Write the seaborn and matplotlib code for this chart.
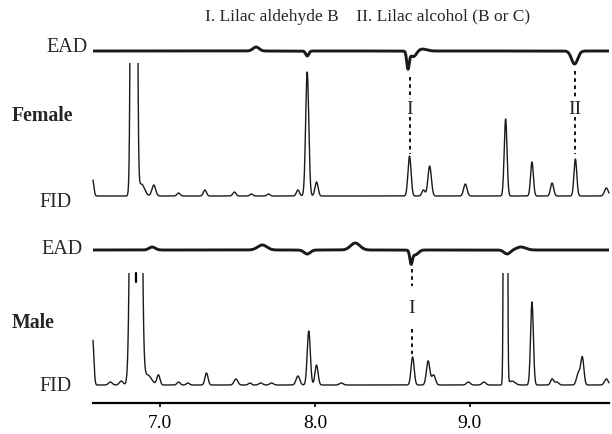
import numpy as np
import pandas as pd
import matplotlib
matplotlib.use("Agg")
import matplotlib.pyplot as plt
from matplotlib.patches import Rectangle
import seaborn as sns

# retention time window (min)
t_start, t_end = 6.568, 9.897

# FID peaks: retention time, height, width
female_fid_rt = [6.565, 6.832, 6.88, 6.96, 7.12, 7.29, 7.48, 7.59, 7.70, 7.89, 7.95, 8.01,
                 8.61, 8.70, 8.74, 8.97, 9.23, 9.40, 9.53, 9.68, 9.88]
female_fid_h = [17, 3000, 12, 11, 3, 6, 4, 2, 2, 6, 124, 14,
                40, 6, 30, 12, 77, 34, 13, 37, 8]
female_fid_w = [0.008, 0.0105, 0.02, 0.012, 0.01, 0.01, 0.01, 0.01, 0.01, 0.01, 0.010, 0.01,
                0.010, 0.01, 0.011, 0.011, 0.009, 0.009, 0.01, 0.009, 0.012]

male_fid_rt = [6.565, 6.68, 6.75, 6.845, 6.92, 6.99, 7.12, 7.18, 7.30, 7.49, 7.58, 7.65, 7.72,
               7.89, 7.96, 8.01, 8.17, 8.63, 8.73, 8.765, 8.99, 9.09, 9.229, 9.27, 9.40,
               9.53, 9.56, 9.70, 9.725, 9.88]
male_fid_h = [48, 3, 4, 3000, 10, 10, 3, 2, 12, 6, 2, 2, 2,
              9, 54, 20, 2, 28, 24, 10, 3, 3, 3000, 4, 83,
              6, 3, 12, 27, 6]
male_fid_w = [0.008, 0.012, 0.012, 0.0175, 0.025, 0.01, 0.01, 0.01, 0.01, 0.012, 0.01, 0.012, 0.012,
              0.012, 0.010, 0.01, 0.012, 0.010, 0.011, 0.012, 0.012, 0.012, 0.0062, 0.02, 0.009,
              0.01, 0.012, 0.012, 0.010, 0.012]

# EAD deflections (negative = depolarisation)
female_ead_rt = [7.62, 7.95, 8.60, 8.635, 8.69, 9.675]
female_ead_h = [4, -5, -17, -6, 2, -13]
female_ead_w = [0.02, 0.01, 0.008, 0.02, 0.03, 0.02]

male_ead_rt = [6.95, 7.66, 7.95, 8.26, 8.62, 8.645, 9.24, 9.33]
male_ead_h = [3, 5, -4, 7, -12, -5, -4, 3]
male_ead_w = [0.02, 0.03, 0.02, 0.03, 0.008, 0.02, 0.02, 0.03]

ticks = [7.0, 8.0, 9.0]
tick_labels = ["7.0", "8.0", "9.0"]

# vertical placement of the four traces (pixels above the time axis)
female_ead_base, female_fid_base = 352, 207
male_ead_base, male_fid_base = 153, 18
female_clip, male_clip = 133, 112

t = np.linspace(t_start, t_end, 8000)


def trace(rts, hs, ws, base):
    y = np.full_like(t, float(base))
    for rt, h, w in zip(rts, hs, ws):
        y += h * np.exp(-0.5 * ((t - rt) / w) ** 2)
    return pd.DataFrame({"t": t, "y": y})


sns.set_theme(style="white")
plt.rcParams["font.family"] = ["Liberation Serif", "DejaVu Serif"]

fig = plt.figure(figsize=(6.12, 4.35), dpi=100)
ax = fig.add_axes([93 / 612, 31 / 435, 516 / 612, 404 / 435])

traces = [
    (trace(female_fid_rt, female_fid_h, female_fid_w, female_fid_base), 1.0, female_fid_base + female_clip),
    (trace(male_fid_rt, male_fid_h, male_fid_w, male_fid_base), 1.0, male_fid_base + male_clip),
    (trace(female_ead_rt, female_ead_h, female_ead_w, female_ead_base), 2.1, None),
    (trace(male_ead_rt, male_ead_h, male_ead_w, male_ead_base), 2.1, None),
]
for df, lw, top in traces:
    n_before = len(ax.lines)
    sns.lineplot(data=df, x="t", y="y", color="#1a1a1a", lw=lw, ax=ax, legend=False)
    if top is not None:
        # off-scale peaks are cut at the top of their panel
        box = Rectangle((t_start - 1, -50), t_end - t_start + 2, top + 50,
                        transform=ax.transData, visible=False)
        ax.add_patch(box)
        for ln in ax.lines[n_before:]:
            ln.set_clip_path(box)

# dashed markers linking EAD responses to FID peaks
dash = dict(color="black", lw=1.3, ls=(0, (2, 2)))
ax.plot([8.61, 8.61], [326, 304], **dash)
ax.plot([8.61, 8.61], [286, 249], **dash)
ax.plot([9.68, 9.68], [332, 304], **dash)
ax.plot([9.68, 9.68], [286, 249], **dash)
ax.plot([8.625, 8.625], [134, 117], **dash)
ax.plot([8.625, 8.625], [74, 49], **dash)
ax.text(8.61, 295, "I", ha="center", va="center", fontsize=14)
ax.text(9.68, 295, "II", ha="center", va="center", fontsize=14)
ax.text(8.625, 95, "I", ha="center", va="center", fontsize=14)
# break marker on the off-scale male peak
ax.plot([6.843, 6.843], [130, 121], color="black", lw=1.6)

ax.set_xlim(t_start, t_end)
ax.set_ylim(0, 404)
for side in ["left", "right", "top"]:
    ax.spines[side].set_visible(False)
ax.spines["bottom"].set_linewidth(1.6)
ax.spines["bottom"].set_color("black")
ax.set_yticks([])
ax.set_xticks(ticks)
ax.set_xticklabels(tick_labels, fontsize=14)
ax.tick_params(axis="x", direction="out", length=3, width=1.2, pad=5, colors="black", bottom=True)
ax.set_xlabel("")
ax.set_ylabel("")

fig.text(368 / 612, 1 - 17 / 435, "I. Lilac aldehyde B    II. Lilac alcohol (B or C)",
         ha="center", va="center", fontsize=12.5)
fig.text(88 / 612, 1 - 47 / 435, "EAD", ha="right", va="center", fontsize=14.5)
fig.text(12 / 612, 1 - 116 / 435, "Female", ha="left", va="center", fontsize=14.3, weight="bold")
fig.text(72 / 612, 1 - 203 / 435, "FID", ha="right", va="center", fontsize=14.5)
fig.text(83 / 612, 1 - 250 / 435, "EAD", ha="right", va="center", fontsize=14.5)
fig.text(12 / 612, 1 - 323 / 435, "Male", ha="left", va="center", fontsize=14.3, weight="bold")
fig.text(72 / 612, 1 - 387 / 435, "FID", ha="right", va="center", fontsize=14.5)

fig.savefig("out.png", dpi=100)
